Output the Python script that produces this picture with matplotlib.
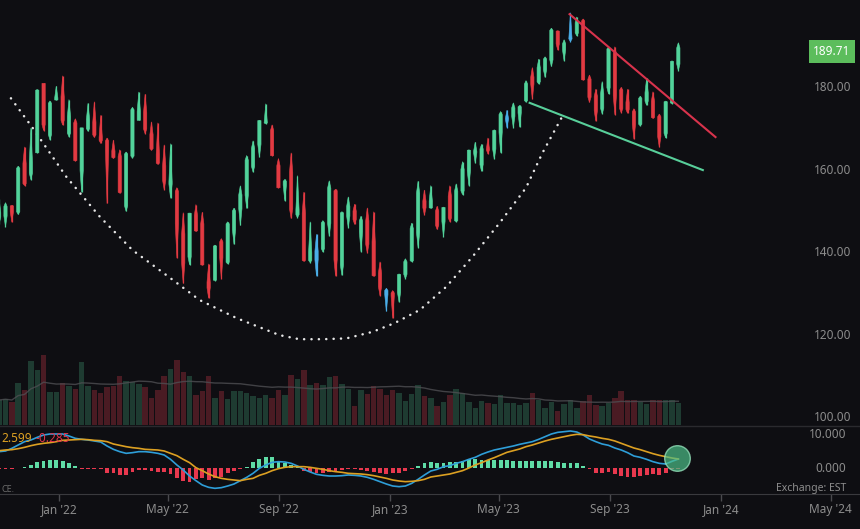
import numpy as np
import pandas as pd
import matplotlib
matplotlib.use("Agg")
import matplotlib.pyplot as plt
import matplotlib.dates as mdates
import matplotlib.transforms as mtransforms
from matplotlib.collections import PolyCollection
from matplotlib.lines import Line2D

plt.rcParams['font.family'] = ['Noto Sans', 'DejaVu Sans']

# weekly bars, week of 2021-10-25 .. week of 2023-11-13 (plotted on the Wednesday)
first_bar = "2021-10-27"

opens = [148.70, 148.99, 151.40, 150.00, 161.68, 159.37, 164.29, 181.12, 168.71, 177.09,
         177.83, 169.08, 171.51, 160.02, 170.16, 171.68, 168.02, 167.17, 164.70, 163.36,
         151.45, 163.51, 172.17, 174.03, 168.70, 163.92, 161.12, 156.71, 154.93, 144.59,
         139.09, 149.07, 147.03, 132.87, 133.42, 142.70, 137.77, 145.67, 150.74, 154.01,
         161.01, 166.37, 171.52, 169.69, 161.15, 156.47, 159.59, 149.31, 149.66, 138.21,
         140.42, 141.07, 147.19, 155.08, 137.11, 148.97, 150.16, 145.14, 147.77, 142.70,
         135.11, 130.92, 130.28, 130.47, 134.83, 138.12, 144.96, 152.57, 150.95, 150.20,
         147.71, 153.79, 147.81, 155.07, 159.94, 164.27, 161.42, 165.05, 165.19, 169.28,
         172.48, 173.16, 173.98, 176.96, 182.63, 181.50, 184.41, 186.83, 193.78, 189.26,
         191.90, 193.35, 196.24, 182.13, 177.97, 175.07, 180.09, 188.28, 179.49, 176.48,
         174.20, 171.22, 176.81, 176.75, 173.05, 169.02, 176.38, 185.82]
highs = [153.17, 152.20, 151.57, 161.02, 165.70, 170.30, 179.63, 181.14, 176.85, 180.42,
         182.94, 177.18, 172.54, 170.35, 176.24, 176.65, 173.34, 167.86, 167.36, 165.02,
         164.48, 175.28, 179.01, 178.49, 171.78, 171.53, 166.20, 166.48, 155.83, 149.77,
         149.68, 151.74, 149.87, 137.34, 141.91, 143.49, 147.55, 150.86, 156.28, 163.63,
         167.19, 172.17, 176.15, 171.05, 162.90, 157.82, 164.26, 158.74, 154.72, 147.54,
         144.52, 147.85, 157.50, 155.45, 150.01, 153.59, 151.83, 148.88, 150.92, 149.97,
         137.85, 131.41, 130.90, 134.92, 138.61, 147.23, 157.38, 155.23, 156.33, 151.30,
         151.11, 156.30, 156.75, 162.14, 165.00, 166.84, 166.32, 167.87, 169.85, 174.30,
         174.59, 176.39, 175.77, 181.78, 184.95, 186.99, 187.56, 194.48, 193.88, 191.70,
         198.23, 197.20, 196.73, 183.13, 179.69, 181.55, 189.92, 189.98, 180.13, 179.70,
         174.97, 177.99, 182.34, 179.08, 173.67, 176.82, 186.57, 190.96]
lows = [147.00, 146.40, 147.48, 149.34, 156.36, 157.80, 164.28, 169.69, 167.46, 177.07,
        171.03, 168.17, 162.30, 154.70, 169.51, 168.04, 166.56, 152.00, 162.95, 154.50,
        150.10, 163.01, 172.17, 168.91, 164.91, 161.50, 155.38, 153.27, 138.80, 132.61,
        137.14, 145.26, 137.06, 129.04, 133.32, 133.77, 137.35, 142.12, 146.70, 150.80,
        159.63, 163.25, 171.31, 163.56, 155.81, 152.68, 148.37, 148.56, 138.00, 137.69,
        134.37, 140.27, 144.13, 134.38, 134.59, 146.15, 146.93, 140.35, 140.00, 134.37,
        129.64, 125.87, 124.17, 128.12, 133.77, 137.90, 141.32, 149.22, 150.85, 145.72,
        143.90, 147.61, 147.61, 154.15, 156.36, 161.80, 159.78, 164.03, 162.80, 164.31,
        170.42, 170.42, 170.52, 176.57, 177.32, 180.97, 182.59, 185.23, 189.20, 186.60,
        191.23, 192.65, 181.92, 176.55, 171.96, 173.74, 178.55, 173.54, 173.98, 173.86,
        167.62, 170.82, 175.80, 172.64, 165.67, 167.90, 176.21, 184.21]
closes = [149.80, 151.28, 149.99, 160.55, 156.81, 161.84, 179.45, 171.14, 176.28, 177.57,
          172.17, 173.07, 162.41, 170.33, 172.39, 168.64, 167.30, 164.85, 163.17, 154.73,
          163.98, 174.72, 174.31, 170.09, 165.29, 161.79, 157.65, 157.28, 147.11, 137.59,
          149.64, 145.38, 137.13, 131.56, 141.66, 138.93, 147.04, 150.17, 154.09, 162.51,
          165.35, 172.10, 171.52, 163.62, 155.81, 157.37, 150.70, 150.43, 138.20, 140.09,
          138.38, 147.27, 155.74, 138.38, 149.70, 151.29, 148.11, 147.81, 142.16, 134.51,
          131.86, 129.93, 129.62, 134.76, 137.87, 145.93, 154.50, 151.01, 152.55, 146.71,
          151.03, 148.50, 155.00, 160.25, 164.90, 164.66, 165.21, 165.02, 169.68, 173.57,
          172.57, 175.16, 175.43, 180.95, 180.96, 184.92, 187.00, 193.97, 190.68, 190.69,
          191.94, 195.83, 181.99, 177.79, 174.49, 178.61, 189.46, 178.18, 175.01, 174.79,
          171.21, 177.49, 178.85, 172.88, 168.22, 176.65, 186.40, 189.71]
blue_bars = [50, 61, 80, 90]

# average daily volume, millions
volume_m = [50, 53, 47, 85, 71, 128, 110, 141, 67, 67,
            85, 78, 72, 126, 78, 70, 65, 77, 78, 98,
            89, 87, 82, 77, 55, 71, 98, 113, 131, 107,
            98, 61, 69, 98, 55, 69, 53, 69, 69, 65,
            58, 55, 60, 55, 71, 61, 100, 93, 111, 81,
            85, 80, 97, 98, 83, 73, 39, 70, 63, 79,
            73, 60, 70, 65, 49, 63, 81, 58, 55, 38,
            47, 60, 72, 65, 47, 35, 49, 45, 43, 60,
            45, 45, 40, 45, 65, 50, 35, 47, 28, 43,
            51, 35, 48, 60, 40, 39, 45, 55, 69, 51,
            50, 47, 42, 50, 50, 51, 51, 45]

macd_line = [5.0, 5.2, 6.0, 7.0, 8.0, 8.5, 9.3, 10.0, 10.3, 10.3,
             10.3, 9.7, 9.0, 8.7, 8.5, 8.2, 7.9, 6.7, 5.7, 5.0,
             4.5, 4.7, 5.0, 5.0, 4.8, 4.5, 4.0, 2.7, 1.0, -0.5,
             -2.3, -3.7, -5.0, -5.7, -6.0, -5.8, -5.3, -4.7, -3.7, -2.7,
             -1.5, 0.0, 1.0, 1.8, 2.0, 1.9, 1.5, 0.7, -0.3, -1.1,
             -1.8, -2.1, -2.3, -2.3, -2.2, -2.0, -2.1, -2.3, -2.7, -3.3,
             -4.0, -4.7, -5.3, -5.5, -5.3, -4.5, -3.3, -2.0, -0.8, -0.3,
             0.5, 0.8, 1.5, 2.0, 2.7, 3.3, 4.2, 4.9, 5.5, 5.9,
             6.3, 6.7, 7.2, 7.6, 8.0, 8.7, 9.5, 10.3, 10.8, 11.0,
             11.2, 10.9, 10.0, 8.8, 8.0, 7.3, 6.9, 6.1, 5.5, 4.7,
             3.7, 3.3, 2.7, 2.0, 1.5, 1.3, 2.1, 2.8]
signal_line = [5.3, 5.5, 5.6, 5.9, 6.3, 6.8, 7.2, 7.5, 7.7, 8.0,
               8.4, 8.5, 8.6, 8.7, 8.6, 8.4, 8.3, 8.0, 7.3, 6.9,
               6.5, 6.2, 6.0, 5.7, 5.6, 5.5, 5.2, 4.5, 3.8, 2.7,
               1.7, 0.2, -0.7, -1.7, -2.5, -3.0, -3.3, -3.5, -3.7, -3.3,
               -3.0, -2.1, -1.5, -0.7, -0.1, 0.3, 0.5, 0.5, 0.5, 0.3,
               0.0, -0.3, -0.7, -1.0, -1.2, -1.5, -1.6, -1.7, -1.9, -2.2,
               -2.6, -3.0, -3.5, -3.8, -4.0, -3.9, -3.7, -3.3, -2.6, -2.3,
               -2.0, -1.7, -1.2, -0.7, 0.1, 1.0, 1.7, 2.5, 3.2, 4.0,
               4.8, 5.3, 5.8, 6.5, 7.0, 7.6, 8.2, 8.7, 9.1, 9.5,
               9.9, 10.2, 10.1, 9.7, 9.4, 9.0, 8.7, 8.2, 7.5, 6.8,
               6.1, 5.6, 5.0, 4.4, 3.9, 3.5, 3.1, 2.8]
macd_hist = [-0.2, -0.2, -0.2, 0.1, 0.5, 1.0, 1.8, 2.3, 2.5, 2.5,
             2.3, 1.7, 0.7, -0.2, -0.2, -0.2, -0.2, -1.5, -1.5, -2.0,
             -2.0, -1.0, -0.5, -0.5, -0.7, -1.0, -1.2, -1.8, -3.0, -3.8,
             -4.0, -3.3, -3.0, -3.5, -3.0, -2.5, -1.5, -0.7, -0.3, 0.5,
             2.0, 2.7, 3.5, 3.3, 2.3, 1.7, 1.0, 0.5, -0.7, -1.0,
             -1.5, -1.5, -1.2, -0.7, -0.5, -0.3, -0.3, -0.5, -0.7, -1.0,
             -1.5, -1.7, -1.5, -1.5, -0.7, -0.3, 0.7, 1.5, 2.0, 1.7,
             1.5, 1.8, 2.0, 2.3, 2.7, 2.8, 2.5, 2.5, 2.5, 2.5,
             2.5, 2.3, 2.3, 2.3, 2.3, 2.3, 2.3, 2.2, 2.0, 1.7,
             1.6, 1.5, 0.7, -0.3, -1.5, -1.3, -1.0, -1.7, -2.3, -2.5,
             -2.7, -2.3, -2.0, -1.7, -2.0, -1.3, -0.3, -0.2]

# cup drawn over the chart (dotted)
cup_dates = ["2021-11-09", "2021-12-03", "2022-01-09", "2022-02-15", "2022-03-23",
             "2022-04-29", "2022-06-05", "2022-07-16", "2022-09-01", "2022-09-23",
             "2022-10-19", "2022-11-14", "2022-12-13", "2023-01-06", "2023-02-03",
             "2023-03-04", "2023-04-02", "2023-05-02", "2023-05-31", "2023-06-18",
             "2023-07-09"]
cup_prices = [177.5, 170.3, 158.5, 148.8, 140.7, 134.7, 128.6, 124.2, 120.1, 119.1,
              119.1, 119.3, 120.9, 123.0, 126.2, 131.8, 139.1, 147.3, 155.8, 164.2,
              172.7]

# falling wedge
wedge_top_dates = ["2023-07-18", "2023-12-26"]
wedge_top_prices = [197.9, 168.1]
wedge_low_dates = ["2023-06-04", "2023-12-12"]
wedge_low_prices = [176.4, 160.1]

price_ticks = [100, 120, 140, 160, 180]
macd_ticks = [0, 10]
date_ticks = ["2022-01-01", "2022-05-01", "2022-09-01", "2023-01-01",
              "2023-05-01", "2023-09-01", "2024-01-01", "2024-05-01"]
date_labels = ["Jan '22", "May '22", "Sep '22", "Jan '23",
               "May '23", "Sep '23", "Jan '24", "May '24"]
last_price = "189.71"

bg = "#0e0e12"
c_up = "#52d39b"
c_dn = "#e23a42"
c_blue = "#4aaee8"
grey_txt = "#8c8c8c"

W, H = 860, 529


def rect(top, bottom):
    return [0, 1 - bottom / H, 1, (bottom - top) / H]


fig = plt.figure(figsize=(8.6, 5.29), dpi=100)
fig.patch.set_facecolor(bg)

axv = fig.add_axes(rect(340, 425))
ax = fig.add_axes(rect(0, 426), sharex=axv)
axm = fig.add_axes(rect(426, 494), sharex=axv)
for a in (ax, axv, axm):
    a.set_facecolor("none")
    for s in a.spines.values():
        s.set_visible(False)
    a.tick_params(left=False, labelleft=False, bottom=False, labelbottom=False)

dates = pd.date_range(first_bar, periods=len(closes), freq="7D")
x = mdates.date2num(dates)
jan22 = mdates.date2num(pd.Timestamp("2022-01-01"))
px_per_day = 0.9068
ax.set_xlim(jan22 - 59 / px_per_day, jan22 + 801 / px_per_day)

# price panel
ax.set_ylim(98.06, 201.33)
up = np.array(closes) >= np.array(opens)
cols = [c_up if u else c_dn for u in up]
for b in blue_bars:
    cols[b] = c_blue
w = 1.8
polys = []
for xi, o, h, l, c in zip(x, opens, highs, lows, closes):
    b0, b1 = min(o, c), max(o, c)
    polys.append([(xi, l), (xi - w, b0), (xi - w, b1), (xi, h), (xi + w, b1), (xi + w, b0)])
ax.add_collection(PolyCollection(polys, facecolors=cols, edgecolors=cols, linewidths=0.4, zorder=3))
ax.vlines(x, lows, highs, colors=cols, lw=0.9, zorder=3)

ax.plot(mdates.date2num(pd.to_datetime(cup_dates)), cup_prices, color="#e6e6e6", lw=1.8,
        ls=(0, (0.05, 2.9)), dash_capstyle="round", zorder=2)
ax.plot(mdates.date2num(pd.to_datetime(wedge_top_dates)), wedge_top_prices, color="#d8334c", lw=1.5, zorder=4)
ax.plot(mdates.date2num(pd.to_datetime(wedge_low_dates)), wedge_low_prices, color="#58cf9a", lw=1.5, zorder=4)

tr = mtransforms.blended_transform_factory(ax.transAxes, ax.transData)
for p in price_ticks:
    ax.text(851 / W, p, f"{p:.2f}", transform=tr, ha="right", va="center",
            color=grey_txt, fontsize=8.5)
ax.text(832 / W, 188.8, last_price, transform=tr, ha="center", va="center", color="white",
        fontsize=8.5, bbox=dict(boxstyle="square,pad=0.4", fc="#5cbd5c", ec="none"))

# volume
axv.set_ylim(0, 170)
vcols = ["#1e3b31" if u else "#4a1b23" for u in up]
axv.bar(x, volume_m, width=6.0, color=vcols, zorder=1)
vol_ma = pd.Series(volume_m).rolling(20, min_periods=1).mean()
axv.plot(x, vol_ma, color="#4e4e52", lw=1.0, alpha=0.8, zorder=2)

fig.add_artist(Line2D([0, 1], [1 - 426 / H] * 2, color="#2a2a2e", lw=1))

# MACD panel
axm.set_ylim(-7.7, 12.7)
hist = np.array(macd_hist)
axm.bar(x, hist, width=4.2, color=np.where(hist >= 0, "#5fdca6", "#e8384e"), zorder=2)
axm.plot(x, macd_line, color="#2e9ed8", lw=1.2, zorder=3)
axm.plot(x, signal_line, color="#dca022", lw=1.2, zorder=3)
axm.scatter([x[-1] - 1.5], [3.0], s=340, facecolor="#4cbf88", alpha=0.7,
            edgecolor="#a0f0c8", linewidth=1.0, zorder=5)

trm = mtransforms.blended_transform_factory(axm.transAxes, axm.transData)
for v in macd_ticks:
    axm.text(846 / W, v, f"{v:.3f}", transform=trm, ha="right", va="center",
             color=grey_txt, fontsize=8.5)

fig.text(1 / W, 1 - 438 / H, "2.599", color="#dca022", fontsize=8.5, ha="left", va="center")
fig.text(35 / W, 1 - 438 / H, "-0.285", color="#e0344c", fontsize=8.5, ha="left", va="center")
fig.text(1 / W, 1 - 490 / H, "CE.", color="#6a6a6a", fontsize=6.5, ha="left", va="center")
fig.text(846 / W, 1 - 488 / H, "Exchange: EST", color=grey_txt, fontsize=7.5, ha="right", va="center")

axm.spines["bottom"].set_visible(True)
axm.spines["bottom"].set_color("#3a3a3e")
axm.set_xticks(mdates.date2num(pd.to_datetime(date_ticks)))
axm.set_xticklabels(date_labels)
axm.tick_params(bottom=True, labelbottom=True, direction="out", length=5, width=1,
                color="#4a4a4e", labelcolor=grey_txt, labelsize=8.5, pad=1.5)

fig.savefig("out.png", dpi=100, facecolor=bg)
